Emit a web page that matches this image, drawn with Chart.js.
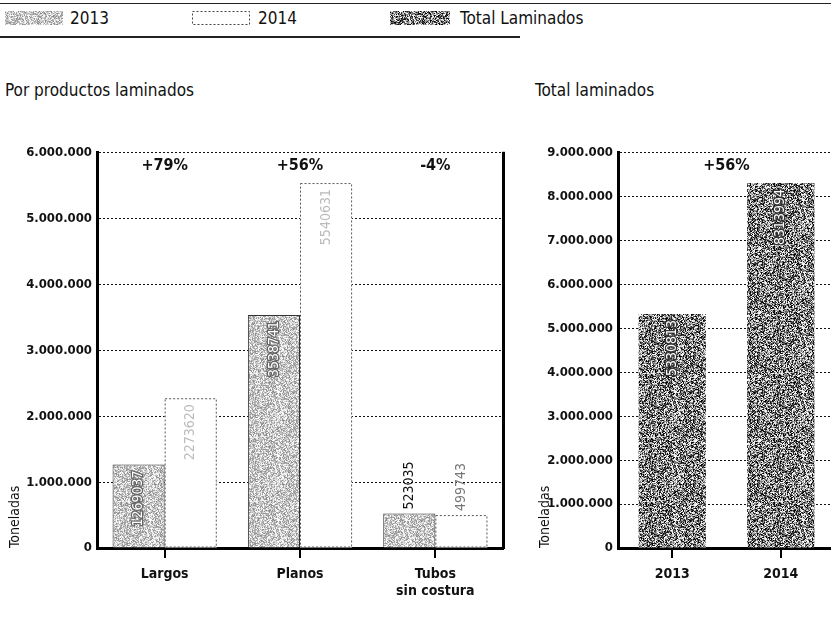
<!DOCTYPE html>
<html lang="es">
<head>
<meta charset="UTF-8">
<title>Productos laminados</title>
<script src="https://cdn.jsdelivr.net/npm/chart.js"></script>
<style>
    body {
        margin: 0;
        background: #fff;
        width: 831px;
        height: 617px;
        position: relative;
        overflow: hidden;
        font-family: 'Liberation Sans Narrow', 'DejaVu Sans Condensed', 'Roboto', sans-serif;
        color: #111;
    }
    .rule { position: absolute; left: 0; background: #222; }
    .legend-item { position: absolute; top: 11px; height: 15px; font-size: 17px; line-height: 15px; }
    .swatch { position: absolute; top: 11px; height: 14px; }
    .title { position: absolute; top: 80px; font-size: 17px; }
    .chart-box { position: absolute; top: 140px; height: 470px; }
</style>
</head>
<body>
    <div class="rule" style="top:3px;width:831px;height:1px;"></div>
    <div class="rule" style="top:36px;width:520px;height:2px;"></div>

    <canvas class="swatch" id="sw2013" width="58" height="14" style="left:5px;width:58px;"></canvas>
    <div class="legend-item" style="left:70px;">2013</div>
    <canvas class="swatch" id="sw2014" width="58" height="14" style="left:192px;width:58px;"></canvas>
    <div class="legend-item" style="left:258px;">2014</div>
    <canvas class="swatch" id="swTotal" width="60" height="14" style="left:390px;width:60px;"></canvas>
    <div class="legend-item" style="left:460px;">Total Laminados</div>

    <div class="title" style="left:5px;">Por productos laminados</div>
    <div class="title" style="left:535px;">Total laminados</div>

    <div class="chart-box" style="left:0;width:515px;"><canvas id="byProduct"></canvas></div>
    <div class="chart-box" style="left:525px;width:310px;"><canvas id="total"></canvas></div>

<script>
const categories = ['Largos', 'Planos', ['Tubos', 'sin costura']];
const values2013 = [1269037, 3538741, 523035];
const values2014 = [2273620, 5540631, 499743];
const changeLabels = ['+79%', '+56%', '-4%'];

const totalYears = ['2013', '2014'];
const totalValues = [5330813, 8313994];
const totalChange = ['+56%'];

const FONT = "'Liberation Sans Narrow', 'DejaVu Sans Condensed', 'Roboto', sans-serif";

// speckled fill like the printed screen texture (fixed seed, style only)
function speckle(base, spread, size) {
    const c = document.createElement('canvas');
    c.width = size; c.height = size;
    const ctx = c.getContext('2d');
    const img = ctx.createImageData(size, size);
    let seed = 12345;
    for (let i = 0; i < size * size; i++) {
        seed = (seed * 1103515245 + 12345) & 0x7fffffff;
        const v = Math.max(0, Math.min(255, base + ((seed % 1000) / 1000 - 0.5) * spread));
        img.data[i * 4] = v; img.data[i * 4 + 1] = v; img.data[i * 4 + 2] = v; img.data[i * 4 + 3] = 255;
    }
    ctx.putImageData(img, 0, 0);
    return c;
}
const tex2013 = speckle(200, 130, 64);
const texTotal = speckle(130, 300, 64);

function pattern(tex) {
    return document.createElement('canvas').getContext('2d').createPattern(tex, 'repeat');
}

// legend swatches
function drawSwatch(id, tex, dotted) {
    const cv = document.getElementById(id), ctx = cv.getContext('2d');
    if (tex) {
        ctx.fillStyle = ctx.createPattern(tex, 'repeat');
        ctx.fillRect(0, 0, cv.width, cv.height);
    }
    if (dotted) {
        ctx.setLineDash([2, 2]);
        ctx.strokeStyle = '#444';
        ctx.strokeRect(0.5, 0.5, cv.width - 1, cv.height - 1);
    }
}
drawSwatch('sw2013', tex2013, false);
drawSwatch('sw2014', null, true);
drawSwatch('swTotal', texTotal, false);

function thousands(v) {
    return String(v).replace(/\B(?=(\d{3})+(?!\d))/g, '.');
}

// rotated value labels, inside the bar top or above a short bar
const valueLabels = {
    id: 'valueLabels',
    afterDatasetsDraw(chart) {
        const ctx = chart.ctx;
        ctx.save();
        ctx.font = '14px ' + FONT;
        ctx.textBaseline = 'middle';
        chart.data.datasets.forEach((ds, di) => {
            const meta = chart.getDatasetMeta(di);
            meta.data.forEach((bar, i) => {
                const text = String(ds.data[i]);
                const w = ctx.measureText(text).width;
                const inside = (bar.base - bar.y) > w + 14;
                ctx.save();
                if (ds.dottedBorder) {
                    ctx.setLineDash([2, 2]);
                    ctx.strokeStyle = '#555';
                    ctx.lineWidth = 1;
                    const half = bar.width / 2;
                    ctx.strokeRect(bar.x - half + 0.5, bar.y + 0.5, bar.width - 1, bar.base - bar.y - 1);
                    ctx.setLineDash([]);
                }
                if (inside) {
                    ctx.translate(bar.x, bar.y + 6);
                    ctx.rotate(-Math.PI / 2);
                    ctx.textAlign = 'right';
                    if (ds.labelStroke) {
                        ctx.strokeStyle = ds.labelStroke;
                        ctx.lineWidth = 2.5;
                        ctx.strokeText(text, 0, 0);
                    }
                    ctx.fillStyle = ds.labelColor;
                } else {
                    ctx.translate(bar.x, bar.y - 4);
                    ctx.rotate(-Math.PI / 2);
                    ctx.textAlign = 'left';
                    ctx.fillStyle = ds.outsideColor;
                }
                ctx.fillText(text, 0, 0);
                ctx.restore();
            });
        });
        ctx.restore();
    }
};

// change labels on top, axis caption and the framing line on the right
const decorations = {
    id: 'decorations',
    afterDraw(chart, args, opts) {
        const ctx = chart.ctx, area = chart.chartArea, x = chart.scales.x;
        ctx.save();
        ctx.fillStyle = '#111';
        ctx.font = 'bold 16px ' + FONT;
        ctx.textAlign = 'center';
        ctx.textBaseline = 'middle';
        opts.changes.forEach((t, i) => {
            const px = opts.centerAll ? (x.getPixelForValue(0) + x.getPixelForValue(1)) / 2 : x.getPixelForValue(i);
            ctx.fillText(t, px, area.top + 13);
        });
        if (opts.rightBorder) {
            ctx.fillStyle = '#000';
            ctx.fillRect(area.right - 1, area.top - 1, 3, area.bottom - area.top + 2);
        }
        ctx.font = '14px ' + FONT;
        ctx.fillStyle = '#111';
        ctx.translate(opts.captionX, area.bottom);
        ctx.rotate(-Math.PI / 2);
        ctx.textAlign = 'left';
        ctx.fillText('Toneladas', 0, 0);
        ctx.restore();
    }
};

function yScale(max, width) {
    return {
        min: 0,
        max: max,
        ticks: {
            stepSize: 1000000,
            color: '#111',
            padding: 5,
            font: { family: FONT, size: 13, weight: 'bold' },
            callback: v => thousands(v)
        },
        grid: { color: '#111', lineWidth: 1, drawTicks: false, tickLength: 0 },
        border: { display: true, color: '#000', width: 3, dash: [2, 2] },
        afterFit: s => { s.width = width; }
    };
}

function xScale() {
    return {
        ticks: { color: '#111', padding: 8, font: { family: FONT, size: 14, weight: 'bold' }, maxRotation: 0 },
        grid: { offset: false, drawOnChartArea: false, drawTicks: true, tickLength: 10, color: '#000', lineWidth: 2 },
        border: { display: true, color: '#000', width: 3 },
        afterFit: s => { s.height = 62; }
    };
}

Chart.defaults.font.family = FONT;

new Chart(document.getElementById('byProduct'), {
    type: 'bar',
    data: {
        labels: categories,
        datasets: [{
            label: '2013',
            data: values2013,
            backgroundColor: pattern(tex2013),
            borderColor: '#333',
            borderWidth: 1,
            labelColor: '#fff',
            labelStroke: '#666',
            outsideColor: '#111'
        }, {
            label: '2014',
            data: values2014,
            backgroundColor: '#fff',
            borderWidth: 0,
            dottedBorder: true,
            labelColor: '#bbb',
            outsideColor: '#777'
        }]
    },
    options: {
        responsive: true,
        maintainAspectRatio: false,
        animation: false,
        categoryPercentage: 0.77,
        barPercentage: 1.0,
        layout: { padding: { top: 10, right: 12, left: 0, bottom: 0 } },
        plugins: {
            legend: { display: false },
            tooltip: { enabled: false },
            decorations: { changes: changeLabels, rightBorder: true, captionX: 15 }
        },
        scales: {
            x: xScale(),
            y: yScale(6000000, 97)
        }
    },
    plugins: [valueLabels, decorations]
});

new Chart(document.getElementById('total'), {
    type: 'bar',
    data: {
        labels: totalYears,
        datasets: [{
            label: 'Total Laminados',
            data: totalValues,
            backgroundColor: pattern(texTotal),
            borderWidth: 0,
            labelColor: '#fff',
            labelStroke: '#333',
            outsideColor: '#111'
        }]
    },
    options: {
        responsive: true,
        maintainAspectRatio: false,
        animation: false,
        categoryPercentage: 1.0,
        barPercentage: 0.62,
        layout: { padding: { top: 10, right: 0, left: 0, bottom: 0 } },
        plugins: {
            legend: { display: false },
            tooltip: { enabled: false },
            decorations: { changes: totalChange, centerAll: true, rightBorder: false, captionX: 20 }
        },
        scales: {
            x: xScale(),
            y: yScale(9000000, 93)
        }
    },
    plugins: [valueLabels, decorations]
});
</script>
</body>
</html>
